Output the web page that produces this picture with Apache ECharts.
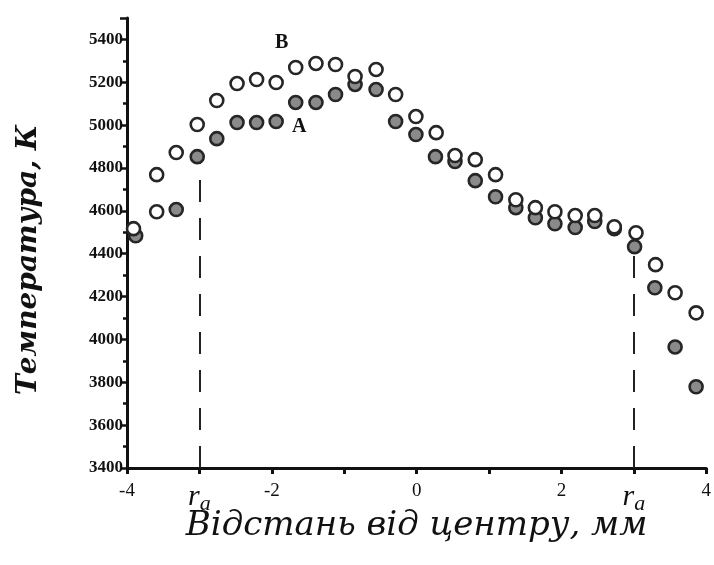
<!DOCTYPE html>
<html>
<head>
<meta charset="utf-8">
<script src="https://cdn.jsdelivr.net/npm/echarts@6/dist/echarts.min.js"></script>
<style>
  html, body { margin: 0; padding: 0; background: #fff; }
  #chart { width: 714px; height: 565px; }
</style>
</head>
<body>
<div id="chart"></div>
<script>
// Distance from centre, mm (B: open circles)
const xB = [-3.91, -3.59, -3.59, -3.32, -3.03, -2.76, -2.48, -2.21, -1.94, -1.67, -1.39, -1.12, -0.85, -0.56, -0.29,
  -0.01, 0.27, 0.53, 0.81, 1.09, 1.37, 1.64, 1.91, 2.19, 2.46, 2.73, 3.03, 3.30, 3.57, 3.86];
const tempB = [4517, 4596, 4769, 4872, 5003, 5115, 5194, 5213, 5199, 5269, 5288, 5283, 5227, 5260, 5143,
  5040, 4965, 4858, 4839, 4769, 4652, 4615, 4596, 4578, 4578, 4526, 4498, 4349, 4218, 4124];

// A: filled circles
const xA = [-3.88, -3.32, -3.03, -2.76, -2.48, -2.21, -1.94, -1.67, -1.39, -1.12, -0.85, -0.56, -0.29,
  -0.01, 0.26, 0.53, 0.81, 1.09, 1.37, 1.64, 1.91, 2.19, 2.46, 2.73, 3.01, 3.29, 3.57, 3.86];
const tempA = [4484, 4606, 4853, 4937, 5012, 5012, 5017, 5106, 5106, 5143, 5190, 5166, 5017,
  4956, 4853, 4830, 4741, 4666, 4615, 4568, 4540, 4522, 4550, 4517, 4433, 4241, 3965, 3779];

// Anode radius positions and tick labels
const raPos = [-3, 3];
const xTickLabels = { '-4': '-4', '-2': '-2', '0': '0', '2': '2', '4': '4' };
const yTicks = [3400, 3600, 3800, 4000, 4200, 4400, 4600, 4800, 5000, 5200, 5400];

const labelIdxA = 6;  // "A" sits right of this point
const labelIdxB = 9;  // "B" sits above-left of this point

const chart = echarts.init(document.getElementById('chart'));

const serif = '"Liberation Serif", "DejaVu Serif", serif';
const wideSerif = '"DejaVu Serif", "Liberation Serif", serif';
const edge = '#262626';

// dashed r_a lines run up to the A curve at that position
const raLines = raPos.map(r => {
  let best = 0;
  xA.forEach((x, i) => { if (Math.abs(x - r) < Math.abs(xA[best] - r)) best = i; });
  return [{ coord: [r, 3400] }, { coord: [r, tempA[best]] }];
});

const dataA = xA.map((x, i) => i === labelIdxA
  ? { value: [x, tempA[i]], label: { show: true, formatter: 'A', position: 'right', offset: [3, 5] } }
  : [x, tempA[i]]);
const dataB = xB.map((x, i) => i === labelIdxB
  ? { value: [x, tempB[i]], label: { show: true, formatter: 'B', position: 'top', offset: [-14, -2] } }
  : [x, tempB[i]]);

const letterLabel = {
  fontFamily: serif,
  fontWeight: 'bold',
  fontSize: 20,
  color: '#111'
};

chart.setOption({
  animation: false,
  backgroundColor: '#fff',
  grid: { left: 127, right: 2, top: 18, bottom: 97 },
  xAxis: {
    type: 'value',
    min: -4,
    max: 4,
    interval: 1,
    name: 'Відстань від центру, мм',
    nameLocation: 'middle',
    nameGap: 41,
    nameMoveOverlap: false,
    nameTextStyle: { fontFamily: wideSerif, fontStyle: 'italic', fontSize: 34, color: '#111' },
    axisLine: { onZero: false, lineStyle: { color: '#111', width: 3 } },
    axisTick: { inside: false, length: 6, lineStyle: { color: '#111', width: 3 } },
    splitLine: { show: false },
    axisLabel: {
      margin: 14,
      color: '#111',
      fontFamily: serif,
      fontSize: 19,
      showMinLabel: true,
      showMaxLabel: true,
      formatter: v => {
        if (raPos.includes(v)) return '{r|r}{a|a}';
        return xTickLabels[String(v)] || '';
      },
      rich: {
        r: { fontFamily: serif, fontStyle: 'italic', fontSize: 30, color: '#111', verticalAlign: 'top' },
        a: { fontFamily: serif, fontStyle: 'italic', fontSize: 22, color: '#111', padding: [11, 0, 0, 0] }
      }
    }
  },
  yAxis: {
    type: 'value',
    min: 3400,
    max: 5500,
    interval: 200,
    name: 'Температура, К',
    nameLocation: 'middle',
    nameGap: 84,
    nameMoveOverlap: false,
    nameTextStyle: {
      fontFamily: wideSerif, fontStyle: 'italic', fontWeight: 'bold', fontSize: 28, color: '#111',
      padding: [0, 34, 0, 0]
    },
    axisLine: { show: true, onZero: false, lineStyle: { color: '#111', width: 3 } },
    axisTick: { show: true, length: 7, lineStyle: { color: '#111', width: 2.5 } },
    minorTick: { show: true, splitNumber: 2, length: 4, lineStyle: { color: '#111', width: 2.5 } },
    splitLine: { show: false },
    axisLabel: {
      margin: 4,
      color: '#111',
      fontFamily: serif,
      fontWeight: 'bold',
      fontSize: 17,
      formatter: v => (yTicks.includes(v) ? String(v) : '')
    }
  },
  series: [
    {
      name: 'A',
      type: 'scatter',
      symbol: 'circle',
      symbolSize: 13,
      z: 3,
      itemStyle: { color: '#8a8a8a', borderColor: edge, borderWidth: 2.6, opacity: 1 },
      label: letterLabel,
      data: dataA,
      markLine: {
        silent: true,
        symbol: 'none',
        z: 1,
        label: { show: false },
        lineStyle: { color: '#222', width: 2, type: [22, 16] },
        data: raLines
      }
    },
    {
      name: 'B',
      type: 'scatter',
      symbol: 'circle',
      symbolSize: 13,
      z: 4,
      itemStyle: { color: '#ffffff', borderColor: edge, borderWidth: 2.6, opacity: 1 },
      label: letterLabel,
      data: dataB
    }
  ]
});
</script>
</body>
</html>
